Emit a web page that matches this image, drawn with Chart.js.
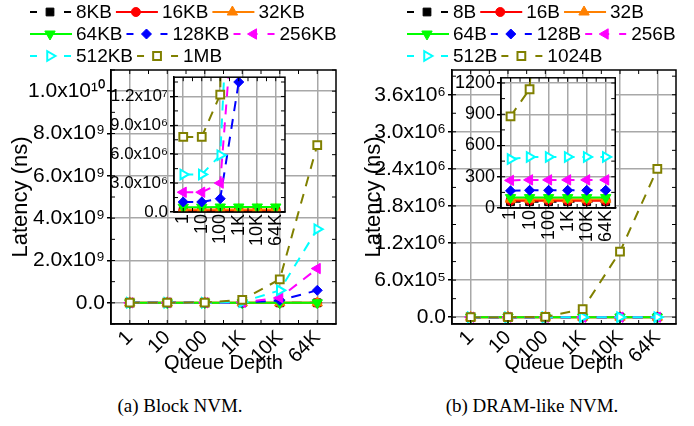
<!DOCTYPE html>
<html>
<head>
<meta charset="utf-8">
<script src="https://cdn.jsdelivr.net/npm/chart.js@4.4.1/dist/chart.umd.min.js"></script>
<style>
  body { margin: 0; width: 694px; height: 426px; background: #fff; position: relative; overflow: hidden; }
  canvas { position: absolute; }
  .caption { position: absolute; top: 395px; width: 260px; text-align: center; font: 19px "Liberation Serif", "Times New Roman", serif; color: #000; }
</style>
</head>
<body>
<canvas id="blockMain" width="347" height="385" style="left:0px;top:0px"></canvas>
<canvas id="blockInset" width="195" height="195" style="left:105px;top:65px"></canvas>
<canvas id="dramMain" width="347" height="385" style="left:347px;top:0px"></canvas>
<canvas id="dramInset" width="180" height="185" style="left:450px;top:65px"></canvas>
<div class="caption" style="left:50px">(a) Block NVM.</div>
<div class="caption" style="left:402px">(b) DRAM-like NVM.</div>
<script>
const queueDepth = ['1', '10', '100', '1K', '10K', '64K'];

// (a) Block NVM - latency in ns
const blockSizes = ['8KB', '16KB', '32KB', '64KB', '128KB', '256KB', '512KB', '1MB'];
const block8KB   = [1.0e5, 1.0e5, 1.0e5, 1.1e5, 1.2e5, 1.2e5];
const block16KB  = [1.5e5, 1.5e5, 1.5e5, 1.6e5, 1.6e5, 1.6e5];
const block32KB  = [2.5e5, 2.5e5, 2.5e5, 2.6e5, 2.6e5, 2.6e5];
const block64KB  = [5.0e5, 5.0e5, 5.2e5, 5.2e5, 5.2e5, 5.2e5];
const block128KB = [1.04e6, 1.04e6, 1.38e6, 1.35e7, 1.2e8, 5.9e8];
const block256KB = [2.05e6, 2.05e6, 3.0e6, 2.8e7, 2.4e8, 1.62e9];
const block512KB = [3.9e6, 3.9e6, 5.9e6, 4.5e7, 5.9e8, 3.48e9];
const block1MB   = [7.8e6, 7.8e6, 1.22e7, 1.45e8, 1.11e9, 7.45e9];
const blockSeries = [block8KB, block16KB, block32KB, block64KB, block128KB, block256KB, block512KB, block1MB];

const blockMainTicks  = [0, 2e9, 4e9, 6e9, 8e9, 1e10];
const blockMainLabels = ['0.0', '2.0x10⁹', '4.0x10⁹', '6.0x10⁹', '8.0x10⁹', '1.0x10¹⁰'];
const blockInsetTicks  = [0, 3e6, 6e6, 9e6, 1.2e7];
const blockInsetLabels = ['0.0', '3.0x10⁶', '6.0x10⁶', '9.0x10⁶', '1.2x10⁷'];

// (b) DRAM-like NVM - latency in ns
const dramSizes = ['8B', '16B', '32B', '64B', '128B', '256B', '512B', '1024B'];
const dram8B    = [60, 60, 60, 60, 60, 60];
const dram16B   = [70, 70, 70, 70, 70, 70];
const dram32B   = [85, 85, 85, 85, 85, 85];
const dram64B   = [100, 100, 100, 100, 100, 100];
const dram128B  = [165, 170, 170, 170, 170, 170];
const dram256B  = [265, 270, 270, 270, 270, 270];
const dram512B  = [470, 490, 490, 490, 490, 490];
const dram1024B = [880, 1140, 4000, 1.3e5, 1.06e6, 2.4e6];
const dramSeries = [dram8B, dram16B, dram32B, dram64B, dram128B, dram256B, dram512B, dram1024B];

const dramMainTicks  = [0, 6e5, 1.2e6, 1.8e6, 2.4e6, 3.0e6, 3.6e6];
const dramMainLabels = ['0.0', '6.0x10⁵', '1.2x10⁶', '1.8x10⁶', '2.4x10⁶', '3.0x10⁶', '3.6x10⁶'];
const dramInsetTicks  = [0, 300, 600, 900, 1200];
const dramInsetLabels = ['0', '300', '600', '900', '1200'];

// marker / line style per size (same order in both panels)
const seriesStyle = [
  { color: '#000000', dash: true,  point: 'rect',     rot: 0,   fill: true,  r: 5.5 },
  { color: '#ff0000', dash: false, point: 'circle',   rot: 0,   fill: true,  r: 4.5 },
  { color: '#ff8000', dash: false, point: 'triangle', rot: 0,   fill: true,  r: 6 },
  { color: '#00ff00', dash: false, point: 'triangle', rot: 180, fill: true,  r: 6 },
  { color: '#0000ff', dash: true,  point: 'rectRot',  rot: 0,   fill: true,  r: 5 },
  { color: '#ff00ff', dash: true,  point: 'triangle', rot: 270, fill: true,  r: 6 },
  { color: '#00ffff', dash: true,  point: 'triangle', rot: 90,  fill: false, r: 5.5 },
  { color: '#808000', dash: true,  point: 'rect',     rot: 0,   fill: false, r: 5.5 },
];

const FONT = '"Liberation Sans", Arial, sans-serif';
const GRID = '#a8a8a8';

function buildDatasets(names, series) {
  return series.map((values, i) => {
    const s = seriesStyle[i];
    return {
      label: names[i],
      data: values,
      borderColor: s.color,
      backgroundColor: s.fill ? s.color : '#ffffff',
      borderWidth: 2,
      borderDash: s.dash ? [10, 8] : [],
      pointStyle: s.point,
      pointRotation: s.rot,
      pointRadius: s.r,
      pointBorderWidth: s.fill ? 1 : 2,
      pointBorderColor: s.color,
      pointBackgroundColor: s.fill ? s.color : '#ffffff',
      order: series.length - 1 - i,
      tension: 0
    };
  });
}

// box around the plot + small inward ticks, white background for insets
const framePlugin = {
  id: 'frame',
  beforeDraw(chart, args, o) {
    if (!o.white) return;
    const a = chart.chartArea;
    chart.ctx.save();
    chart.ctx.fillStyle = '#ffffff';
    chart.ctx.fillRect(a.left, a.top, a.width, a.height);
    chart.ctx.restore();
  },
  afterDraw(chart, args, o) {
    const { ctx, chartArea: a, scales: { x, y } } = chart;
    ctx.save();
    ctx.strokeStyle = '#000';
    ctx.lineWidth = 1;
    ctx.beginPath();
    const start = Math.ceil(y.min / o.minor) * o.minor;
    for (let v = start; v <= y.max + 1e-9; v += o.minor) {
      const py = y.getPixelForValue(v);
      ctx.moveTo(a.left, py); ctx.lineTo(a.left + 4, py);
      ctx.moveTo(a.right, py); ctx.lineTo(a.right - 4, py);
    }
    for (let k = 0; k <= queueDepth.length - 1; k += 0.5) {
      const px = x.getPixelForValue(k);
      ctx.moveTo(px, a.bottom); ctx.lineTo(px, a.bottom - 4);
      ctx.moveTo(px, a.top); ctx.lineTo(px, a.top + 4);
    }
    ctx.stroke();
    ctx.lineWidth = 1.5;
    ctx.strokeRect(a.left, a.top, a.width, a.height);
    ctx.restore();
  }
};

// legend with line sample + marker, packed in rows
const sampleLegend = {
  id: 'sampleLegend',
  afterDraw(chart, args, o) {
    if (!o.rows) return;
    const ctx = chart.ctx;
    ctx.save();
    ctx.font = '19px ' + FONT;
    ctx.textBaseline = 'middle';
    o.rows.forEach((row, r) => {
      let x = o.x;
      const y = o.y[r];
      row.forEach(i => {
        const ds = chart.data.datasets[i];
        ctx.strokeStyle = ds.borderColor;
        ctx.lineWidth = 2;
        ctx.setLineDash(ds.borderDash.length ? [7, 10] : []);
        ctx.beginPath();
        ctx.moveTo(x, y);
        ctx.lineTo(x + 42, y);
        ctx.stroke();
        ctx.setLineDash([]);
        ctx.fillStyle = ds.pointBackgroundColor;
        ctx.lineWidth = ds.pointBorderWidth;
        Chart.helpers.drawPoint(ctx, {
          pointStyle: ds.pointStyle, rotation: ds.pointRotation,
          radius: ds.pointRadius, borderWidth: ds.pointBorderWidth
        }, x + 20, y);
        ctx.fillStyle = '#000';
        ctx.fillText(ds.label, x + 46, y + 1);
        x += 46 + ctx.measureText(ds.label).width + 4;
      });
    });
    ctx.restore();
  }
};

function makeChart(id, names, series, cfg) {
  return new Chart(document.getElementById(id), {
    type: 'line',
    data: { labels: queueDepth, datasets: buildDatasets(names, series) },
    plugins: [framePlugin, sampleLegend],
    options: {
      responsive: false,
      animation: false,
      events: [],
      layout: { padding: cfg.padding },
      plugins: {
        legend: { display: false },
        tooltip: { enabled: false },
        frame: { white: cfg.white, minor: cfg.minor },
        sampleLegend: cfg.legend || {}
      },
      scales: {
        x: {
          offset: true,
          grid: { color: GRID, lineWidth: 1.5, drawTicks: false, offset: false },
          border: { color: '#000', width: 1.5 },
          ticks: {
            color: '#000', font: { family: FONT, size: cfg.xTickSize },
            minRotation: cfg.rot, maxRotation: cfg.rot, padding: cfg.xPad, autoSkip: false
          },
          title: cfg.titles
            ? { display: true, text: 'Queue Depth', color: '#000', font: { family: FONT, size: 20 }, padding: { top: 0, bottom: 10 } }
            : { display: false },
          afterFit: s => { s.height = cfg.xHeight; }
        },
        y: {
          min: cfg.min,
          max: cfg.max,
          afterBuildTicks: s => { s.ticks = cfg.ticks.map(v => ({ value: v })); },
          grid: { color: GRID, lineWidth: 1.5, tickLength: 4, tickColor: '#000' },
          border: { color: '#000', width: 1.5 },
          ticks: {
            color: '#000', font: { family: FONT, size: cfg.yTickSize }, padding: 2,
            callback: (v, i) => cfg.labels[i]
          },
          title: cfg.titles
            ? { display: true, text: 'Latency (ns)', color: '#000', font: { family: FONT, size: 22 }, padding: { top: cfg.yTitlePad, bottom: 0 } }
            : { display: false },
          afterFit: s => { s.width = cfg.yWidth; }
        }
      }
    }
  });
}

makeChart('blockMain', blockSizes, blockSeries, {
  padding: { top: 70, right: 11, left: 0, bottom: 0 },
  min: -1e9, max: 1.1e10, ticks: blockMainTicks, labels: blockMainLabels, minor: 1e9,
  yTickSize: 21, xTickSize: 20, rot: 45, xPad: 2, xHeight: 61, yWidth: 111, titles: true, yTitlePad: 8, white: false,
  legend: { x: 30, y: [12, 34, 56], rows: [[0, 1, 2], [3, 4, 5], [6, 7]] }
});
makeChart('blockInset', blockSizes, blockSeries, {
  padding: { top: 7, right: 8, left: 0, bottom: 0 },
  min: 0, max: 1.4e7, ticks: blockInsetTicks, labels: blockInsetLabels, minor: 1.5e6,
  yTickSize: 17, xTickSize: 18, rot: 90, xPad: 2, xHeight: 48, yWidth: 69, titles: false, white: true
});
makeChart('dramMain', dramSizes, dramSeries, {
  padding: { top: 70, right: 18, left: 0, bottom: 0 },
  min: -1.1e5, max: 4.0e6, ticks: dramMainTicks, labels: dramMainLabels, minor: 3e5,
  yTickSize: 21, xTickSize: 20, rot: 45, xPad: 2, xHeight: 61, yWidth: 105, titles: true, yTitlePad: 14, white: false,
  legend: { x: 60, y: [12, 34, 56], rows: [[0, 1, 2], [3, 4, 5], [6, 7]] }
});
makeChart('dramInset', dramSizes, dramSeries, {
  padding: { top: 10, right: 8, left: 0, bottom: 0 },
  min: 0, max: 1250, ticks: dramInsetTicks, labels: dramInsetLabels, minor: 150,
  yTickSize: 18, xTickSize: 18, rot: 90, xPad: 2, xHeight: 42, yWidth: 51, titles: false, white: true
});
</script>
</body>
</html>
